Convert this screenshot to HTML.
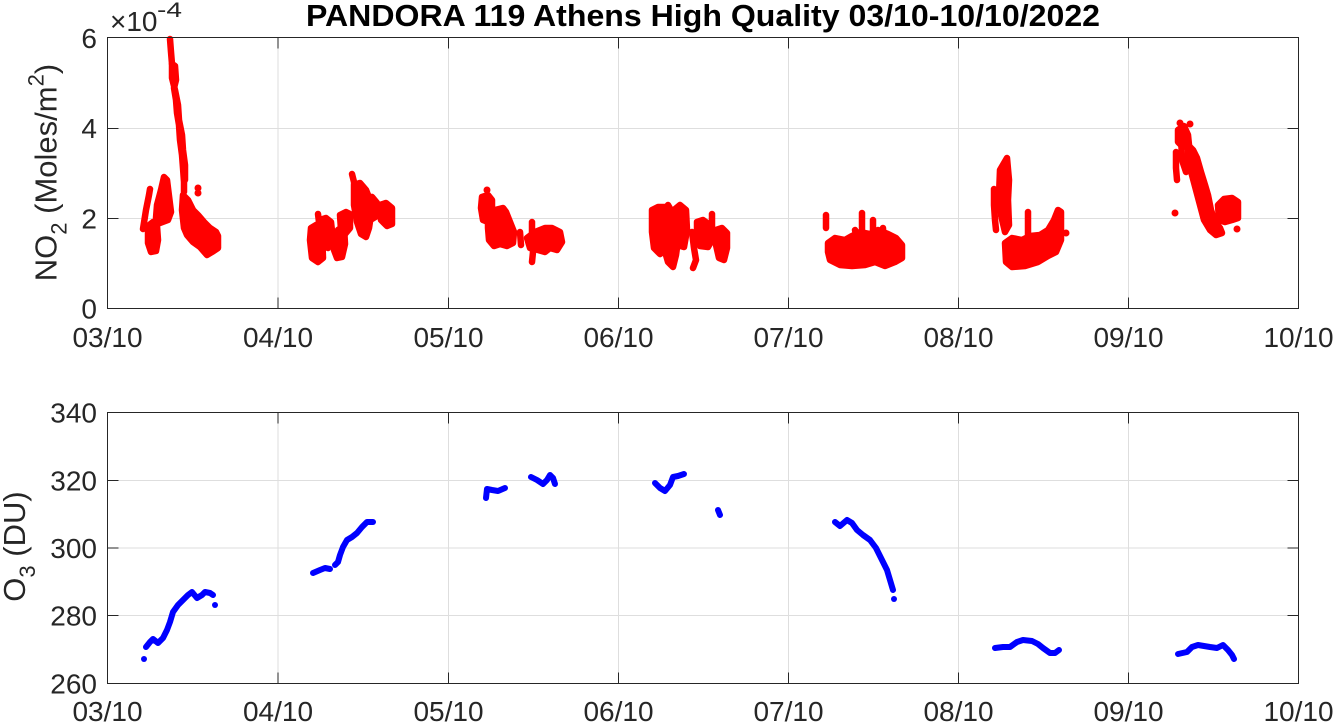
<!DOCTYPE html>
<html>
<head>
<meta charset="utf-8">
<style>
  html, body { margin: 0; padding: 0; background: #fff; }
  svg { display: block; }
  text { font-family: "Liberation Sans", Arial, sans-serif; }
  .tk { font-size: 28px; fill: #262626; }
  .grid { stroke: #dedede; stroke-width: 1; fill: none; }
  .ax { stroke: #262626; stroke-width: 1; fill: none; }
  .r { fill: #ff0000; stroke: #ff0000; stroke-width: 6.5; stroke-linejoin: round; stroke-linecap: round; }
  .rl { fill: none; stroke: #ff0000; stroke-width: 6.5; stroke-linejoin: round; stroke-linecap: round; }
  .rd { fill: #ff0000; stroke: none; }
  .b { fill: none; stroke: #0000ff; stroke-width: 6; stroke-linejoin: round; stroke-linecap: round; }
  .bd { fill: #0000ff; stroke: none; }
</style>
</head>
<body>
<svg width="1333" height="723" viewBox="0 0 1333 723" xmlns="http://www.w3.org/2000/svg">
  <rect width="1333" height="723" fill="#fff"/>

  <!-- Title -->
  <text x="306" y="26" font-size="31" font-weight="bold" fill="#000" textLength="794" lengthAdjust="spacingAndGlyphs">PANDORA 119 Athens High Quality 03/10-10/10/2022</text>

  <!-- ================= TOP AXES ================= -->
  <g class="grid">
    <line x1="278" y1="37.5" x2="278" y2="308.5"/>
    <line x1="448.5" y1="37.5" x2="448.5" y2="308.5"/>
    <line x1="618.5" y1="37.5" x2="618.5" y2="308.5"/>
    <line x1="788.5" y1="37.5" x2="788.5" y2="308.5"/>
    <line x1="958.5" y1="37.5" x2="958.5" y2="308.5"/>
    <line x1="1128.5" y1="37.5" x2="1128.5" y2="308.5"/>
    <line x1="107.5" y1="128.5" x2="1298.5" y2="128.5"/>
    <line x1="107.5" y1="218.5" x2="1298.5" y2="218.5"/>
  </g>

  <!-- NO2 data -->
  <g>
    <!-- March -->
    <polyline class="rl" points="143,229 146,210 149,195 150,189"/>
    <polygon class="r" points="148,226 153,222 157,226 158,240 156,251 151,252 148,243"/>
    <polygon class="r" points="156,218 157,205 161,190 164,177 167,180 169,196 171,212 168,220 160,223"/>
    <polyline class="rl" points="170,39 171,52 172,64 175,66 176,80 174,88 176,100 177,113 179,125 180,140 182,155 183,168 184,182 184,192"/>
    <polyline class="rl" points="172,64 172,78 175,90 178,105 179,120 182,135 183,150 185,165 185,180"/>
    <polygon class="r" points="183,195 188,200 193,210 198,215 204,222 210,228 216,232 218,236 218,248 212,252 207,255 200,247 193,242 187,235 184,228 182,210"/>
    <circle class="rd" cx="198" cy="188" r="3.5"/>
    <circle class="rd" cx="198" cy="193" r="3.5"/>

    <!-- April -->
    <polygon class="r" points="311,228 316,225 322,232 323,258 318,262 312,258 310,240"/>
    <polyline class="rl" points="318,214 319,222"/>
    <polygon class="r" points="320,220 326,218 331,222 333,240 328,248 322,245"/>
    <polygon class="r" points="334,236 338,230 344,226 345,244 342,257 337,258 334,250"/>
    <polygon class="r" points="340,215 346,212 350,214 350,228 345,234 341,230"/>
    <polyline class="rl" points="352,174 354,182 355,195"/>
    <polygon class="r" points="354,185 360,183 366,190 370,200 371,215 369,228 366,237 361,234 357,222 354,205"/>
    <polygon class="r" points="367,200 372,197 377,203 377,216 372,219 368,212"/>
    <polygon class="r" points="380,205 386,203 392,208 392,224 387,226 381,220"/>

    <!-- May -->
    <circle class="rd" cx="487" cy="190" r="3.5"/>
    <polygon class="r" points="482,197 488,195 492,200 492,215 488,222 483,220 481,208"/>
    <polygon class="r" points="488,215 495,210 503,208 506,212 510,222 514,232 513,243 507,246 500,244 494,246 489,240 488,228"/>
    <polyline class="rl" points="520,232 521,245"/>
    <polyline class="rl" points="532,222 532,240 533,252 532,262"/>
    <polygon class="r" points="527,238 535,232 545,228 552,228 560,232 562,242 557,250 550,248 545,252 538,250 530,248"/>

    <!-- June -->
    <polygon class="r" points="652,210 658,207 665,207 669,215 668,235 666,250 660,254 654,248 652,232"/>
    <polygon class="r" points="662,215 668,205 672,212 678,215 678,240 676,255 673,267 668,262 664,248"/>
    <polygon class="r" points="674,210 680,205 686,210 687,230 684,247 677,245 674,230"/>
    <polyline class="rl" points="692,232 694,248 696,260 693,268"/>
    <polygon class="r" points="697,222 703,220 710,225 712,240 708,247 700,246 697,235"/>
    <polyline class="rl" points="712,214 712,225 712,235"/>
    <polygon class="r" points="716,230 722,228 727,233 727,248 724,260 719,258 716,245"/>

    <!-- July -->
    <polyline class="rl" points="826,215 826,228"/>
    <polygon class="r" points="828,243 835,238 845,240 852,236 860,232 870,234 878,230 888,234 896,238 902,245 902,258 895,262 885,266 875,262 865,265 852,266 840,265 830,260 828,252"/>
    <polyline class="rl" points="862,213 862,240"/>
    <polyline class="rl" points="873,220 873,250"/>
    <polyline class="rl" points="883,228 884,262"/>
    <polyline class="rl" points="855,230 857,240"/>

    <!-- August -->
    <polyline class="rl" points="994,189 994,205 995,220 996,230"/>
    <polygon class="r" points="1000,170 1007,158 1009,180 1008,200 1009,225 1005,232 1001,215 999,195"/>
    <polygon class="r" points="1005,243 1012,238 1022,240 1030,236 1040,235 1048,230 1054,220 1058,210 1061,212 1061,240 1056,252 1048,256 1038,262 1025,266 1012,267 1006,262"/>
    <polyline class="rl" points="1028,212 1028,240"/>
    <circle class="rd" cx="1066" cy="233" r="3.5"/>

    <!-- September -->
    <circle class="rd" cx="1175" cy="213" r="3.5"/>
    <polyline class="rl" points="1176,152 1176,168 1177,180"/>
    <circle class="rd" cx="1180" cy="123" r="3.5"/>
    <circle class="rd" cx="1190" cy="124" r="3.5"/>
    <polygon class="r" points="1178,130 1184,126 1188,135 1189,145 1183,147 1178,142"/>
    <polyline class="rl" points="1181,135 1182,160 1186,172"/>
    <polygon class="r" points="1188,145 1193,150 1197,158 1201,172 1205,185 1208,195 1211,210 1215,222 1220,228 1222,233 1216,235 1210,230 1204,220 1200,205 1196,190 1192,175 1188,160"/>
    <polygon class="r" points="1218,205 1224,199 1232,198 1238,202 1238,218 1232,220 1225,222 1219,220"/>
    <circle class="rd" cx="1237" cy="229" r="3.5"/>
  </g>

  <!-- Top axes box and ticks -->
  <rect class="ax" x="107.5" y="37.5" width="1191" height="271"/>
  <g class="ax">
    <path d="M278,308.5V297.5 M448.5,308.5V297.5 M618.5,308.5V297.5 M788.5,308.5V297.5 M958.5,308.5V297.5 M1128.5,308.5V297.5"/>
    <path d="M278,37.5V48.5 M448.5,37.5V48.5 M618.5,37.5V48.5 M788.5,37.5V48.5 M958.5,37.5V48.5 M1128.5,37.5V48.5"/>
    <path d="M107.5,128.5H118.5 M107.5,218.5H118.5 M1298.5,128.5H1287.5 M1298.5,218.5H1287.5"/>
  </g>

  <!-- Top y tick labels -->
  <g class="tk" text-anchor="end">
    <text x="97" y="48">6</text>
    <text x="97" y="138">4</text>
    <text x="97" y="228.5">2</text>
    <text x="97" y="318.5">0</text>
  </g>
  <!-- exponent -->
  <text class="tk" x="110" y="31">×10</text>
  <text x="157" y="17" font-size="21" fill="#262626" textLength="25" lengthAdjust="spacingAndGlyphs">-4</text>

  <!-- Top x tick labels -->
  <g class="tk" text-anchor="middle">
    <text x="107.5" y="347">03/10</text>
    <text x="278" y="347">04/10</text>
    <text x="448.5" y="347">05/10</text>
    <text x="618.5" y="347">06/10</text>
    <text x="788.5" y="347">07/10</text>
    <text x="958.5" y="347">08/10</text>
    <text x="1128.5" y="347">09/10</text>
    <text x="1298.5" y="347">10/10</text>
  </g>

  <!-- Top y label -->
  <text transform="translate(56.5,172.5) rotate(-90)" text-anchor="middle" font-size="31" fill="#262626">NO<tspan font-size="22" dy="10">2</tspan><tspan dy="-10"> (Moles/m</tspan><tspan font-size="22" dy="-13">2</tspan><tspan dy="13">)</tspan></text>

  <!-- ================= BOTTOM AXES ================= -->
  <g class="grid">
    <line x1="278" y1="412.5" x2="278" y2="683.5"/>
    <line x1="448.5" y1="412.5" x2="448.5" y2="683.5"/>
    <line x1="618.5" y1="412.5" x2="618.5" y2="683.5"/>
    <line x1="788.5" y1="412.5" x2="788.5" y2="683.5"/>
    <line x1="958.5" y1="412.5" x2="958.5" y2="683.5"/>
    <line x1="1128.5" y1="412.5" x2="1128.5" y2="683.5"/>
    <line x1="107.5" y1="480.5" x2="1298.5" y2="480.5"/>
    <line x1="107.5" y1="548" x2="1298.5" y2="548"/>
    <line x1="107.5" y1="615.5" x2="1298.5" y2="615.5"/>
  </g>

  <!-- O3 data -->
  <g>
    <!-- March -->
    <circle class="bd" cx="144" cy="659" r="3"/>
    <polyline class="b" points="146,647 150,642 153,639 158,643 163,638 167,630 170,622 173,612 178,605 183,600 188,595 192,592 197,598 202,595 205,592 210,593 213,595"/>
    <circle class="bd" cx="215" cy="605" r="3"/>
    <!-- April -->
    <polyline class="b" points="313,573 320,570 325,568 330,569"/>
    <polyline class="b" points="335,565 338,562 340,555 343,547 347,540 352,537 357,533 362,527 367,522 373,522"/>
    <!-- May -->
    <polyline class="b" points="486,498 487,489 492,490 498,491 505,488"/>
    <polyline class="b" points="531,477 537,480 543,484 547,480 550,475 553,478 555,484"/>
    <!-- June -->
    <polyline class="b" points="655,483 660,488 665,491 670,485 673,477 678,476 684,474"/>
    <polyline class="b" points="718,510 720,515"/>
    <!-- July -->
    <polyline class="b" points="835,522 840,526 847,520 852,523 857,530 863,535 870,540 876,548 882,560 887,570 890,580 893,590"/>
    <circle class="bd" cx="894" cy="599" r="3"/>
    <!-- August -->
    <polyline class="b" points="995,648 1003,647 1010,647 1017,642 1023,640 1032,641 1038,644 1043,648 1050,653 1055,653 1059,650"/>
    <!-- September -->
    <polyline class="b" points="1178,654 1187,652 1192,647 1198,645 1210,647 1217,648 1223,645 1228,650 1232,655 1234,659"/>
  </g>

  <!-- Bottom axes box and ticks -->
  <rect class="ax" x="107.5" y="412.5" width="1191" height="271"/>
  <g class="ax">
    <path d="M278,683.5V672.5 M448.5,683.5V672.5 M618.5,683.5V672.5 M788.5,683.5V672.5 M958.5,683.5V672.5 M1128.5,683.5V672.5"/>
    <path d="M278,412.5V423.5 M448.5,412.5V423.5 M618.5,412.5V423.5 M788.5,412.5V423.5 M958.5,412.5V423.5 M1128.5,412.5V423.5"/>
    <path d="M107.5,480.5H118.5 M107.5,548H118.5 M107.5,615.5H118.5 M1298.5,480.5H1287.5 M1298.5,548H1287.5 M1298.5,615.5H1287.5"/>
  </g>

  <!-- Bottom y tick labels -->
  <g class="tk" text-anchor="end">
    <text x="97" y="422.5">340</text>
    <text x="97" y="490.5">320</text>
    <text x="97" y="558">300</text>
    <text x="97" y="625.5">280</text>
    <text x="97" y="693.5">260</text>
  </g>

  <!-- Bottom x tick labels -->
  <g class="tk" text-anchor="middle">
    <text x="107.5" y="721">03/10</text>
    <text x="278" y="721">04/10</text>
    <text x="448.5" y="721">05/10</text>
    <text x="618.5" y="721">06/10</text>
    <text x="788.5" y="721">07/10</text>
    <text x="958.5" y="721">08/10</text>
    <text x="1128.5" y="721">09/10</text>
    <text x="1298.5" y="721">10/10</text>
  </g>

  <!-- Bottom y label -->
  <text transform="translate(25,546.5) rotate(-90)" text-anchor="middle" font-size="31" fill="#262626">O<tspan font-size="22" dy="10">3</tspan><tspan dy="-10"> (DU)</tspan></text>
</svg>
</body>
</html>
